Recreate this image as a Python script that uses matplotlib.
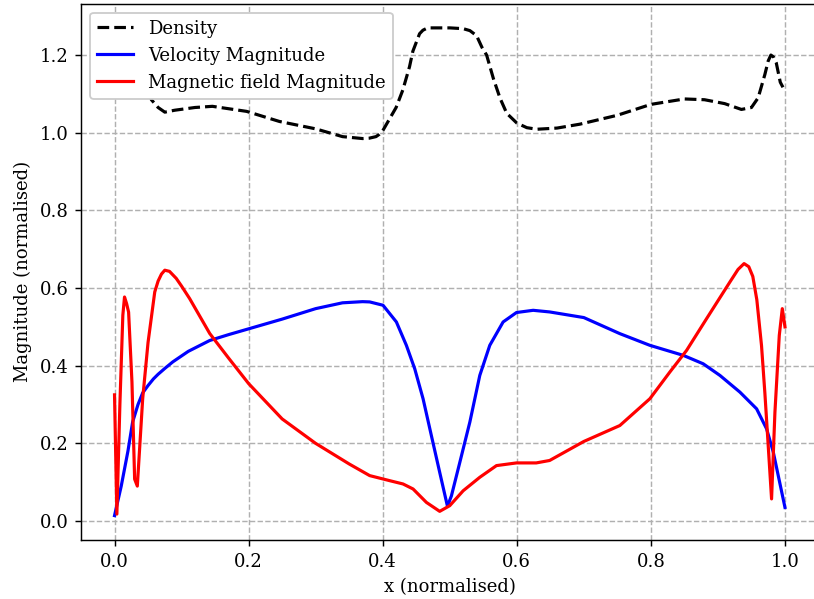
import matplotlib
matplotlib.use('Agg')
import matplotlib.pyplot as plt

plt.rcParams['font.family'] = 'DejaVu Serif'

# density (dashed black)
dens_x = [0.0, 0.02, 0.04, 0.055, 0.065, 0.075, 0.09, 0.12, 0.146, 0.197, 0.246, 0.3, 0.34,
          0.37, 0.38, 0.39, 0.395, 0.40, 0.41, 0.42, 0.43, 0.44, 0.445, 0.455, 0.46, 0.467,
          0.5, 0.52, 0.53, 0.54, 0.548, 0.555, 0.565, 0.575, 0.585, 0.6, 0.615, 0.63, 0.66,
          0.694, 0.75, 0.8, 0.85, 0.88, 0.91, 0.935, 0.95, 0.96, 0.965, 0.97, 0.975, 0.979,
          0.983, 0.987, 0.993, 0.997]
dens_y = [1.15, 1.2, 1.16, 1.085, 1.065, 1.053, 1.058, 1.065, 1.068, 1.055, 1.029, 1.01, 0.99,
          0.985, 0.986, 0.99, 0.996, 1.005, 1.035, 1.065, 1.11, 1.17, 1.21, 1.255, 1.264, 1.27,
          1.27, 1.268, 1.263, 1.25, 1.22, 1.2, 1.14, 1.089, 1.05, 1.025, 1.013, 1.009, 1.012,
          1.022, 1.045, 1.073, 1.087, 1.085, 1.075, 1.06, 1.065, 1.09, 1.12, 1.15, 1.185, 1.2,
          1.195, 1.18, 1.13, 1.117]

# velocity magnitude (blue)
vel_x = [0.0, 0.01, 0.02, 0.027, 0.035, 0.042, 0.05, 0.058, 0.065, 0.075, 0.087, 0.11, 0.142,
         0.17, 0.2, 0.25, 0.3, 0.34, 0.37, 0.3806, 0.4005, 0.4204, 0.4353, 0.4478, 0.4602,
         0.4726, 0.485, 0.4966, 0.5025, 0.515, 0.53, 0.5448, 0.5597, 0.5796, 0.5995, 0.6244,
         0.649, 0.7, 0.7537, 0.7985, 0.8483, 0.878, 0.903, 0.9328, 0.9577, 0.9726, 0.9826, 1.0]
vel_y = [0.014, 0.09, 0.18, 0.255, 0.3, 0.33, 0.349, 0.366, 0.378, 0.393, 0.41, 0.437, 0.465,
         0.48, 0.495, 0.52, 0.547, 0.562, 0.565, 0.5643, 0.5557, 0.5127, 0.4525, 0.392, 0.315,
         0.22, 0.1256, 0.038, 0.065, 0.151, 0.255, 0.375, 0.4525, 0.5127, 0.537, 0.5427,
         0.5385, 0.524, 0.4826, 0.4525, 0.4267, 0.405, 0.375, 0.332, 0.289, 0.2374, 0.1772,
         0.035]

# magnetic field magnitude (red)
mag_x = [0.0, 0.0035, 0.008, 0.0124, 0.0149, 0.018, 0.021, 0.026, 0.03, 0.034, 0.042, 0.05,
         0.06, 0.065, 0.07, 0.075, 0.082, 0.092, 0.1, 0.112, 0.142, 0.17, 0.2, 0.25, 0.3,
         0.35, 0.3806, 0.4104, 0.4303, 0.4453, 0.4652, 0.485, 0.5, 0.52, 0.5448, 0.5697,
         0.5995, 0.629, 0.649, 0.7, 0.7537, 0.7985, 0.8284, 0.8533, 0.883, 0.918,
         0.93, 0.939, 0.946, 0.952, 0.958, 0.965, 0.97, 0.975, 0.98, 0.985, 0.9915, 0.996, 1.0]
mag_y = [0.325, 0.018, 0.3, 0.53, 0.577, 0.56, 0.538, 0.358, 0.108, 0.09, 0.315, 0.46,
         0.59, 0.618, 0.636, 0.646, 0.643, 0.625, 0.605, 0.573, 0.483, 0.42, 0.354, 0.263, 0.2,
         0.147, 0.117, 0.104, 0.0955, 0.0826, 0.048, 0.025, 0.0396, 0.078, 0.1127, 0.1428,
         0.1497, 0.1497, 0.156, 0.205, 0.246, 0.315, 0.384, 0.4396, 0.521, 0.616,
         0.648, 0.663, 0.655, 0.63, 0.57, 0.452, 0.33, 0.194, 0.057, 0.28, 0.478, 0.547, 0.5]

fig = plt.figure(figsize=(814 / 130, 599 / 130), dpi=130)
ax = fig.add_axes([81 / 814, 59 / 599, 737.5 / 814, 536.5 / 599])

ax.plot(dens_x, dens_y, 'k--', lw=1.75, label='Density')
ax.plot(vel_x, vel_y, 'b-', lw=1.75, label='Velocity Magnitude')
ax.plot(mag_x, mag_y, 'r-', lw=1.75, label='Magnetic field Magnitude')

ax.set_xlabel('x (normalised)')
ax.set_ylabel('Magnitude (normalised)')
ax.grid(True, linestyle='--')
ax.legend(loc='upper left', framealpha=1.0)

fig.savefig('out.png', dpi=130)
